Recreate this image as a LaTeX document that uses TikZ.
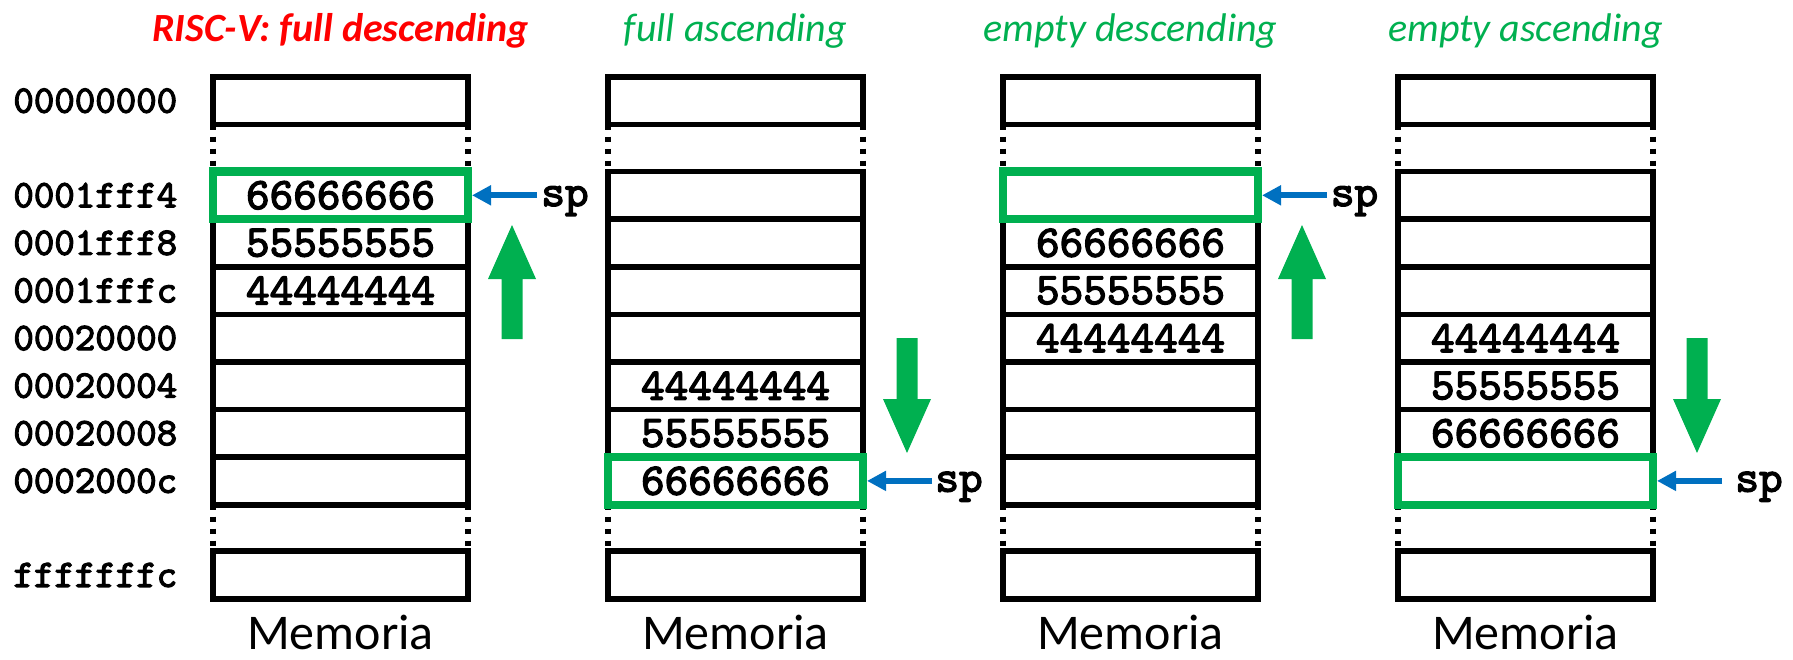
\documentclass[tikz,border=0pt]{standalone}
\usepackage{fontspec}
\setmainfont{Carlito}
\newfontfamily\monofam{lmmono10-regular.otf}[FakeBold=3]
\usetikzlibrary{arrows.meta}
\definecolor{offgreen}{HTML}{00B050}
\definecolor{offblue}{HTML}{0070C0}
\definecolor{offred}{HTML}{FF0000}
\tikzset{
  pics/uparr/.style={code={\fill[offgreen] (-10.5,114) -- (-10.5,54) -- (-24,54) -- (0,0) -- (24,54) -- (10.5,54) -- (10.5,114) -- cycle;}},
  pics/downarr/.style={code={\fill[offgreen] (-10.5,-115) -- (-10.5,-54) -- (-24,-54) -- (0,0) -- (24,-54) -- (10.5,-54) -- (10.5,-115) -- cycle;}}
}
\begin{document}
\begin{tikzpicture}[x=0.5pt,y=-0.5pt,
  memcell/.style={draw=black, line width=2.8pt, minimum width=127.5pt, minimum height=23.8pt, inner sep=0pt, outer sep=0pt},
  val/.style={font=\monofam\bfseries\fontsize{22.5}{26}\selectfont, inner sep=0pt},
  addr/.style={font=\monofam\bfseries\fontsize{19.5}{23}\selectfont, inner sep=0pt, anchor=west},
  splabel/.style={font=\monofam\bfseries\fontsize{22.5}{26}\selectfont, inner sep=0pt, anchor=base west},
  dotside/.style={line width=2.8pt, dash pattern=on 2.75pt off 3.25pt},
  stackbox/.style={draw=offgreen, line width=4.2pt},
  sparrow/.style={draw=offblue, line width=3pt, -{Triangle[length=9.5pt,width=9.5pt]}, shorten >=2pt},
  ttl/.style={anchor=base, inner sep=0pt, font=\itshape\fontsize{20}{24}\selectfont, text=offgreen},
  memlbl/.style={anchor=base, inner sep=0pt, font=\fontsize{25}{30}\selectfont}
]
\useasboundingbox (0,0) rectangle (1793,659);

% memory columns
\foreach \c in {1,...,4}{
  \pgfmathsetmacro{\cx}{340.5+395*(\c-1)}
  \node[memcell] (c\c-top) at (\cx,100.75) {};
  \foreach \r in {1,...,7}{
    \pgfmathsetmacro{\cy}{195.3+47.6*(\r-1)}
    \node[memcell] (c\c-r\r) at (\cx,\cy) {};
  }
  \node[memcell] (c\c-bot) at (\cx,575) {};
  \draw[dotside] (c\c-top.south west) -- (c\c-r1.north west);
  \draw[dotside] (c\c-top.south east) -- (c\c-r1.north east);
  \draw[dotside] (c\c-r7.south west) -- (c\c-bot.north west);
  \draw[dotside] (c\c-r7.south east) -- (c\c-bot.north east);
}

% titles
\node[ttl, text=offred, font=\bfseries\itshape\fontsize{20}{24}\selectfont] (t1) at (340.5,41.7) {RISC-V: full descending};
\node[ttl] (t2) at (735.5,41.7) {full ascending};
\node[ttl] (t3) at (1130.5,41.7) {empty descending};
\node[ttl] (t4) at (1525.5,41.7) {empty ascending};

% addresses
\node[addr] (a0) at (13,100.75) {00000000};
\node[addr] (a1) at (13,195.3) {0001fff4};
\node[addr] (a2) at (13,242.9) {0001fff8};
\node[addr] (a3) at (13,290.5) {0001fffc};
\node[addr] (a4) at (13,338.1) {00020000};
\node[addr] (a5) at (13,385.7) {00020004};
\node[addr] (a6) at (13,433.3) {00020008};
\node[addr] (a7) at (13,480.9) {0002000c};
\node[addr] (a8) at (13,575) {fffffffc};

% values
\node[val] (v1a) at (c1-r1) {66666666};
\node[val] (v1b) at (c1-r2) {55555555};
\node[val] (v1c) at (c1-r3) {44444444};
\node[val] (v2a) at (c2-r5) {44444444};
\node[val] (v2b) at (c2-r6) {55555555};
\node[val] (v2c) at (c2-r7) {66666666};
\node[val] (v3a) at (c3-r2) {66666666};
\node[val] (v3b) at (c3-r3) {55555555};
\node[val] (v3c) at (c3-r4) {44444444};
\node[val] (v4a) at (c4-r4) {44444444};
\node[val] (v4b) at (c4-r5) {55555555};
\node[val] (v4c) at (c4-r6) {66666666};

% stack pointer cells
\draw[stackbox] (c1-r1.north west) rectangle (c1-r1.south east);
\draw[stackbox] (c2-r7.north west) rectangle (c2-r7.south east);
\draw[stackbox] (c3-r1.north west) rectangle (c3-r1.south east);
\draw[stackbox] (c4-r7.north west) rectangle (c4-r7.south east);

% sp labels and arrows
\node[splabel] (sp1) at ([xshift=36.5pt,yshift=-5.35pt]c1-r1.east) {sp};
\node[splabel] (sp2) at ([xshift=36pt,yshift=-5.35pt]c2-r7.east) {sp};
\node[splabel] (sp3) at ([xshift=36.25pt,yshift=-5.35pt]c3-r1.east) {sp};
\node[splabel] (sp4) at ([xshift=41pt,yshift=-5.35pt]c4-r7.east) {sp};
\coordinate (tl1) at ([xshift=34.5pt]c1-r1.east);
\coordinate (tl2) at ([xshift=34.5pt]c2-r7.east);
\coordinate (tl3) at ([xshift=34.5pt]c3-r1.east);
\coordinate (tl4) at ([xshift=34.5pt]c4-r7.east);
\draw[sparrow] (tl1) -- (c1-r1.east);
\draw[sparrow] (tl2) -- (c2-r7.east);
\draw[sparrow] (tl3) -- (c3-r1.east);
\draw[sparrow] (tl4) -- (c4-r7.east);

% growth direction arrows
\pic at (512,225) {uparr};
\pic at (907,453) {downarr};
\pic at (1302,225) {uparr};
\pic at (1697,453) {downarr};

% captions
\node[memlbl] (m1) at (340.5,649) {Memoria};
\node[memlbl] (m2) at (735.5,649) {Memoria};
\node[memlbl] (m3) at (1130.5,649) {Memoria};
\node[memlbl] (m4) at (1525.5,649) {Memoria};
\end{tikzpicture}
\end{document}
